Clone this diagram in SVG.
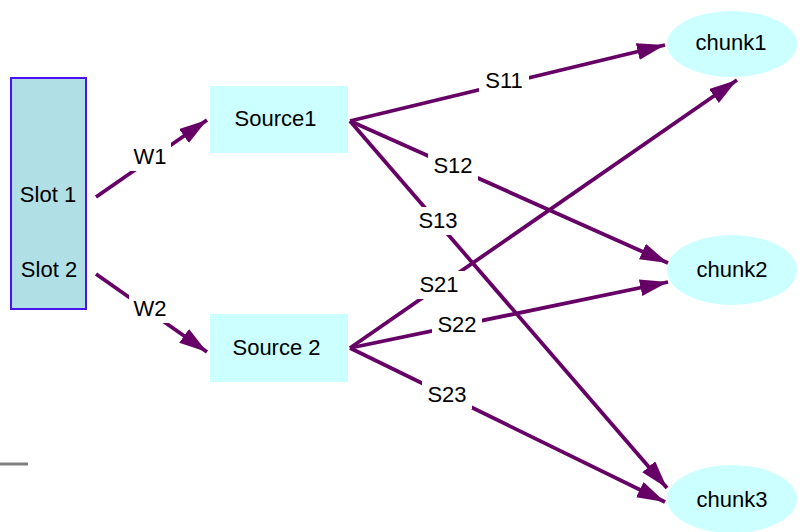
<svg xmlns="http://www.w3.org/2000/svg" width="800" height="532" viewBox="0 0 800 532">
<style>
text{font-family:"Liberation Sans",Arial,sans-serif;font-size:22px;fill:#000;text-anchor:middle}
.e{stroke:#660066;stroke-width:3.8;fill:none;marker-end:url(#ah)}
.lb{fill:#fff}
.src{fill:#ccffff}
.ch{fill:#ccffff}
</style>
<defs>
<marker id="ah" markerUnits="userSpaceOnUse" markerWidth="30" markerHeight="18" refX="28" refY="8.5" orient="auto" viewBox="0 0 30 18">
<path d="M0,0 L28,8.5 L0,17 Z" fill="#660066"/>
</marker>
</defs>
<rect width="800" height="532" fill="#fff"/>
<line x1="0" y1="464" x2="28" y2="464" stroke="#808080" stroke-width="3"/>
<g id="slots">
<rect x="11" y="78" width="75" height="231" fill="#b0e0e6" stroke="#4a14f0" stroke-width="2"/>
<text x="48" y="202">Slot 1</text>
<text x="49" y="277">Slot 2</text>
</g>
<g id="source1"><rect class="src" x="210" y="86" width="138" height="67"/><text x="275.5" y="126">Source1</text></g>
<g id="source2"><rect class="src" x="210" y="314" width="138" height="68"/><text x="276.5" y="355">Source 2</text></g>
<g id="chunk1"><ellipse class="ch" cx="732" cy="44" rx="65" ry="33"/><text x="731" y="50">chunk1</text></g>
<g id="chunk2"><ellipse class="ch" cx="732" cy="270" rx="65" ry="35"/><text x="732" y="277">chunk2</text></g>
<g id="chunk3"><ellipse class="ch" cx="732" cy="499" rx="65" ry="34"/><text x="732" y="507">chunk3</text></g>
<g id="connectors">
<line class="e" x1="96" y1="197" x2="207" y2="120"/>
<line class="e" x1="96" y1="274" x2="207" y2="352"/>
<line class="e" x1="350" y1="121" x2="665" y2="45"/>
<line class="e" x1="350" y1="121" x2="668" y2="263"/>
<line class="e" x1="350" y1="121" x2="667" y2="488"/>
<line class="e" x1="350" y1="348" x2="737" y2="80"/>
<line class="e" x1="350" y1="348" x2="668" y2="282"/>
<line class="e" x1="350" y1="348" x2="665" y2="502"/>
<rect class="lb" x="129" y="143" width="42" height="28"/><text x="150" y="164">W1</text>
<rect class="lb" x="129" y="295" width="42" height="28"/><text x="150" y="316">W2</text>
<rect class="lb" x="479" y="67" width="50" height="28"/><text x="504" y="88">S11</text>
<rect class="lb" x="428" y="152" width="50" height="28"/><text x="453" y="173">S12</text>
<rect class="lb" x="413" y="207" width="50" height="28"/><text x="438" y="228">S13</text>
<rect class="lb" x="414" y="271" width="50" height="28"/><text x="439" y="292">S21</text>
<rect class="lb" x="432" y="311" width="50" height="28"/><text x="457" y="332">S22</text>
<rect class="lb" x="422" y="381" width="50" height="28"/><text x="447" y="402">S23</text>
</g>
</svg>
